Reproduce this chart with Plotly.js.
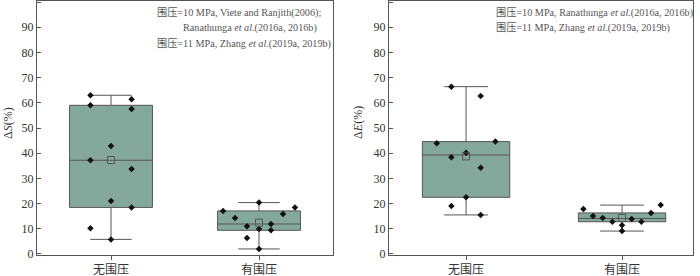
<!DOCTYPE html>
<html><head><meta charset="utf-8">
<script src="https://cdn.plot.ly/plotly-3.0.1.min.js"></script>
<style>html,body{margin:0;padding:0;background:#fff}#chart{width:700px;height:276px}</style>
</head><body><div id="chart"></div>
<script>
// ---- data ----
const categories = ['无围压', '有围压'];
// ΔS (%) panel
const dS_none = [63.0, 61.4, 59.0, 57.5, 42.9, 37.2, 33.7, 21.0, 18.5, 10.2, 5.8];
const dS_none_lane = [-1, 1, -1, 1, 0, -1, 1, 0, 1, -1, 0];
const dS_conf = [20.4, 17.1, 18.5, 14.3, 15.9, 11.0, 11.9, 9.9, 9.4, 6.3, 2.0];
const dS_conf_lane = [0, -3, 3, -2, 2, -1, 1, 0, 1, -1, 0];
// ΔE (%) panel
const dE_none = [66.4, 62.7, 43.9, 44.6, 40.2, 38.4, 34.2, 22.5, 19.0, 15.5];
const dE_none_lane = [-1, 1, -2, 2, 0, -1, 1, 0, -1, 1];
const dE_conf = [17.9, 15.1, 14.3, 12.8, 11.4, 9.1, 13.9, 12.8, 16.3, 19.4];
const dE_conf_lane = [-4, -3, -2, -1, 0, 0, 1, 2, 3, 4];

const yTicks = [0, 10, 20, 30, 40, 50, 60, 70, 80, 90, 100];

// ---- styles ----
const FILL = '#85a89c', LINE = '#555555';
const SERIF = 'Liberation Serif, Times New Roman, serif';
const CJK = 'Noto Sans CJK SC, sans-serif';

function group(vals, lanes, pos, spacing, xa, ya) {
  const box = {
    type: 'box', y: vals, x: vals.map(() => pos), xaxis: xa, yaxis: ya,
    quartilemethod: 'exclusive', boxpoints: false, width: 0.56, whiskerwidth: 0.5,
    fillcolor: FILL, line: {color: LINE, width: 1}, hoverinfo: 'skip', showlegend: false
  };
  const pts = {
    type: 'scatter', mode: 'markers', xaxis: xa, yaxis: ya,
    x: lanes.map(l => pos + l * spacing), y: vals,
    marker: {symbol: 'diamond', size: 5, color: '#111'}, showlegend: false, hoverinfo: 'skip'
  };
  const mean = vals.reduce((a, b) => a + b, 0) / vals.length;
  const m = {
    type: 'scatter', mode: 'markers', xaxis: xa, yaxis: ya, x: [pos], y: [mean],
    marker: {symbol: 'square-open', size: 7, color: LINE, line: {width: 1, color: LINE}},
    showlegend: false, hoverinfo: 'skip'
  };
  return [box, pts, m];
}

const traces = [].concat(
  group(dS_none, dS_none_lane, 0, 0.139, 'x', 'y'),
  group(dS_conf, dS_conf_lane, 1, 0.081, 'x', 'y'),
  group(dE_none, dE_none_lane, 0, 0.094, 'x2', 'y2'),
  group(dE_conf, dE_conf_lane, 1, 0.062, 'x2', 'y2')
);

function xax(domain, range, anchor) {
  return {
    domain: domain, range: range, anchor: anchor, tickvals: [0, 1], ticktext: categories,
    ticks: 'outside', ticklen: 4, tickcolor: LINE, showgrid: false, zeroline: false,
    showline: true, linecolor: LINE, linewidth: 1, mirror: true,
    tickfont: {family: CJK, size: 12, color: '#333'}
  };
}
function yax(anchor) {
  return {
    anchor: anchor, range: [-0.4, 100.4], tickvals: yTicks, ticks: 'inside', ticklen: 4,
    tickcolor: LINE, showgrid: false, zeroline: false, showline: true, linecolor: LINE,
    linewidth: 1, mirror: true, tickfont: {family: SERIF, size: 12, color: '#333'}
  };
}

const annFont = {family: SERIF + ', ' + CJK, size: 10.2, color: '#555'};
function note(x, y, text) {
  return {xref: 'paper', yref: 'paper', x: x, y: y, xanchor: 'left', yanchor: 'middle',
    text: text, showarrow: false, font: annFont};
}

const layout = {
  width: 700, height: 276, margin: {l: 0, r: 0, t: 1, b: 21},
  paper_bgcolor: '#fff', plot_bgcolor: '#fff', showlegend: false,
  xaxis: xax([37/700, 333/700], [-0.5, 1.5], 'y'),
  yaxis: yax('x'),
  xaxis2: xax([389/700, 693/700], [-0.494, 1.455], 'y2'),
  yaxis2: yax('x2'),
  annotations: [
    note(155/700, 0.953, '围压=10 MPa, Viete and Ranjith(2006);'),
    note(181/700, 0.894, 'Ranathunga <i>et al</i>.(2016a, 2016b)'),
    note(155/700, 0.831, '围压=11 MPa, Zhang <i>et al</i>.(2019a, 2019b)'),
    note(494/700, 0.953, '围压=10 MPa, Ranathunga <i>et al</i>.(2016a, 2016b)'),
    note(494/700, 0.894, '围压=11 MPa, Zhang <i>et al</i>.(2019a, 2019b)'),
    {xref: 'paper', yref: 'paper', x: 8/700, y: 0.52, textangle: -90, showarrow: false,
     xanchor: 'center', yanchor: 'middle', text: 'Δ<i>S</i>(%)', font: {family: SERIF, size: 12, color: '#333'}},
    {xref: 'paper', yref: 'paper', x: 358/700, y: 0.52, textangle: -90, showarrow: false,
     xanchor: 'center', yanchor: 'middle', text: 'Δ<i>E</i>(%)', font: {family: SERIF, size: 12, color: '#333'}}
  ]
};

Plotly.newPlot('chart', traces, layout, {staticPlot: true, displayModeBar: false});
</script>
</body></html>
